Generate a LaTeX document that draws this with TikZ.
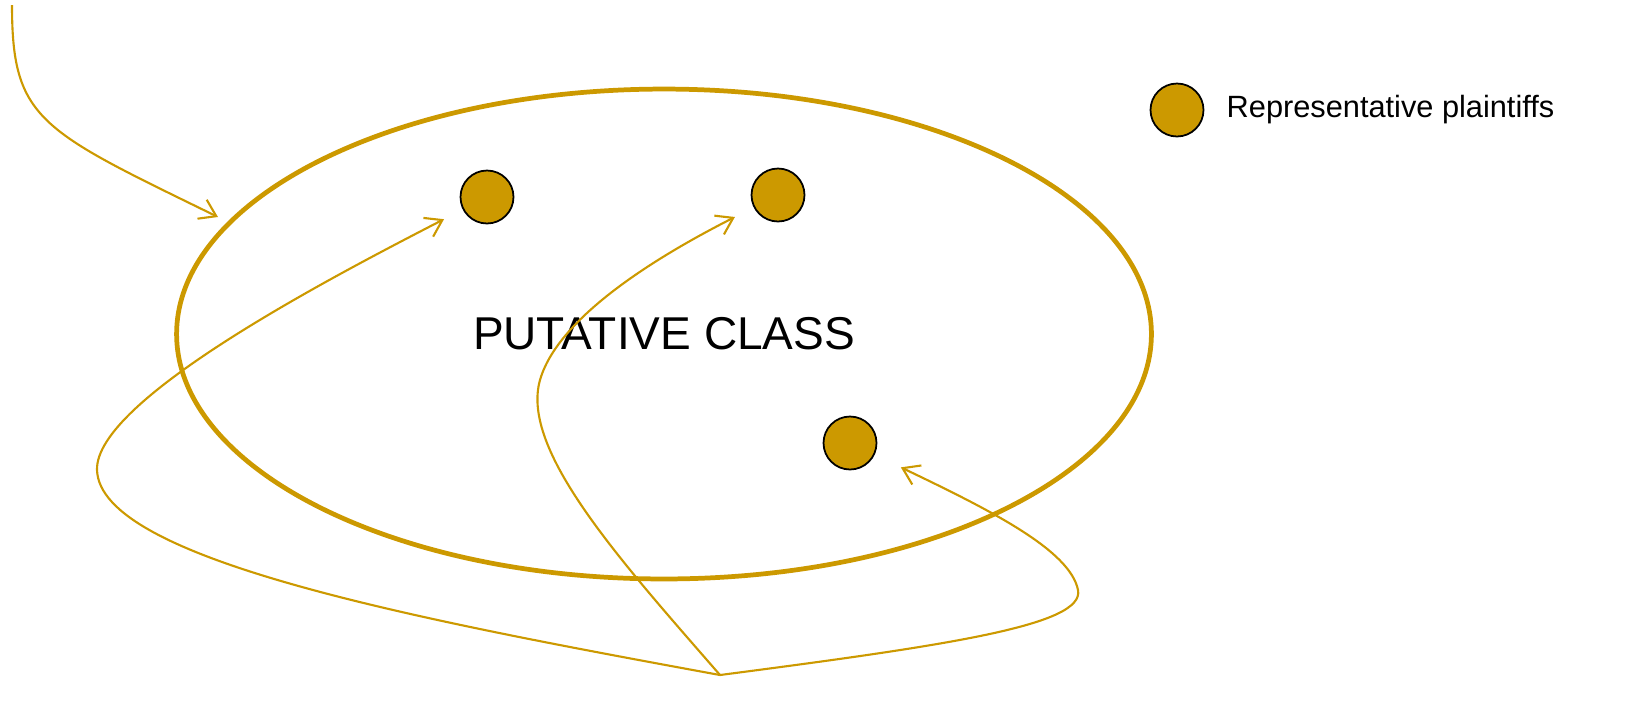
\documentclass[tikz,border=0pt]{standalone}
\usepackage{fontspec}
\setmainfont{Liberation Sans}
\usetikzlibrary{shapes.geometric, arrows.meta, positioning}
\definecolor{gold}{RGB}{204,153,0}
\tikzstyle{classbox} = [ellipse, minimum width=19.5cm, minimum height=9.8cm, inner sep=0pt, text centered, draw=gold, line width=2.7pt, font=\fontsize{26.2}{30}\selectfont]
\tikzstyle{plaintiff} = [circle, minimum size=1.06cm, inner sep=0pt, draw=black, line width=1pt, fill=gold]
\tikzstyle{arrow} = [draw=gold, line width=1.2pt, -{Straight Barb[length=9pt,width=12pt]}]

\begin{document}
\begin{tikzpicture}[x=0.02cm, y=-0.02cm, node distance=0.44cm]
    \useasboundingbox (0,0) rectangle (1631,701);
    \node (class) [classbox] at (664,334) {PUTATIVE CLASS};
    \node (p1) [plaintiff] at (487,197) {};
    \node (p2) [plaintiff] at (778,195) {};
    \node (p3) [plaintiff] at (850,443) {};
    \node (key) [plaintiff] at (1177,110) {};
    \node (keytext) [right=of key, inner sep=0pt, font=\fontsize{17.5}{21}\selectfont] {Representative plaintiffs};

    \coordinate (top) at (12,5);
    \coordinate (tip) at (218,217);
    \coordinate (src) at (720,675);

    \draw [arrow] (top) .. controls (12,120) and (40,130) .. (tip);
    \draw [arrow, shorten >=0.42cm] (src) .. controls (420,620) and (100,560) .. (97,470)
        .. controls (95,400) and (330,278) .. (p1);
    \draw [arrow, shorten >=0.42cm] (src) .. controls (620,560) and (520,450) .. (540,380)
        .. controls (560,310) and (680,245) .. (p2);
    \draw [arrow, shorten >=0.58cm] (src) .. controls (950,645) and (1085,625) .. (1078,590)
        .. controls (1070,550) and (990,510) .. (p3);
\end{tikzpicture}
\end{document}
